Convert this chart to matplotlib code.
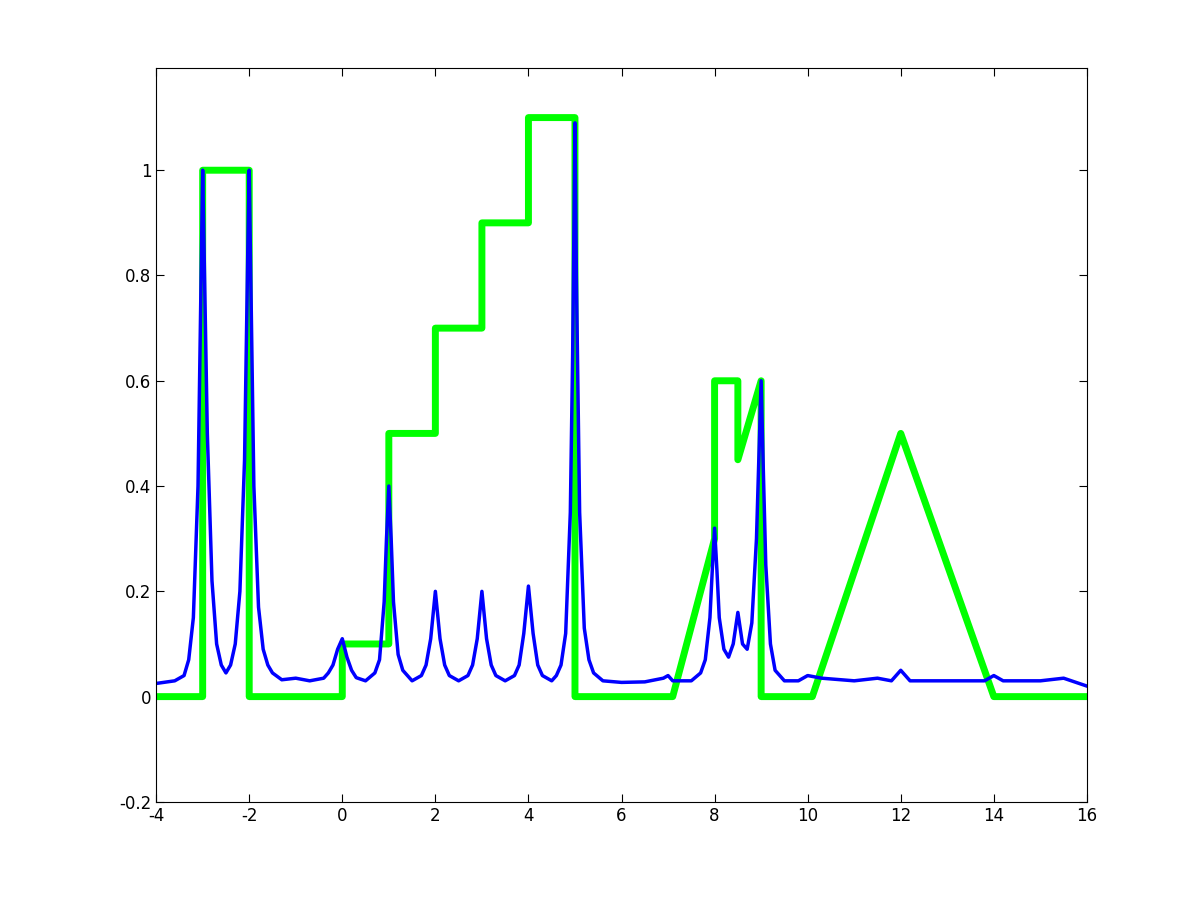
import matplotlib
matplotlib.use('Agg')
import matplotlib.pyplot as plt

# green step/ramp signal (breakpoints)
green_x = [-4, -3, -3, -2, -2, 0, 0, 1, 1, 2, 2, 3, 3, 4, 4, 5, 5, 7.1, 8, 8, 8.5, 8.5, 9, 9, 10.1, 12, 14, 16]
green_y = [0, 0, 1, 1, 0, 0, 0.1, 0.1, 0.5, 0.5, 0.7, 0.7, 0.9, 0.9, 1.1, 1.1, 0, 0, 0.3, 0.6, 0.6, 0.45, 0.6, 0, 0, 0.5, 0, 0]

# blue peak signal
blue_x = [-4, -3.6, -3.4, -3.3, -3.2, -3.1, -3.05, -3, -2.97, -2.9, -2.8, -2.7, -2.6, -2.5, -2.4, -2.3, -2.2,
          -2.1, -2.03, -2, -1.95, -1.9, -1.8, -1.7, -1.6, -1.5, -1.3, -1.0, -0.7, -0.4, -0.3, -0.2, -0.1, 0,
          0.1, 0.2, 0.3, 0.5, 0.7, 0.8, 0.9, 0.95, 1, 1.05, 1.1, 1.2, 1.3, 1.5,
          1.7, 1.8, 1.9, 2, 2.1, 2.2, 2.3, 2.5, 2.7, 2.8, 2.9, 3, 3.1, 3.2, 3.3, 3.5,
          3.7, 3.8, 3.9, 4, 4.1, 4.2, 4.3, 4.5, 4.6, 4.7, 4.8, 4.9, 4.95, 5, 5.03, 5.1, 5.2, 5.3, 5.4, 5.6,
          6, 6.5, 6.9, 7, 7.1, 7.5, 7.7, 7.8, 7.9, 7.95, 8, 8.05, 8.1, 8.2, 8.3, 8.4, 8.5, 8.6, 8.7, 8.8,
          8.9, 8.95, 9, 9.05, 9.1, 9.2, 9.3, 9.5, 9.8, 10, 10.3, 11, 11.5, 11.8, 12, 12.2, 13, 13.8, 14,
          14.2, 15, 15.5, 16]
blue_y = [0.025, 0.03, 0.04, 0.07, 0.15, 0.4, 0.7, 1.0, 0.85, 0.5, 0.22, 0.1, 0.06, 0.045, 0.06, 0.1, 0.2,
          0.45, 0.85, 1.0, 0.7, 0.4, 0.17, 0.09, 0.06, 0.045, 0.032, 0.035, 0.03, 0.035, 0.045, 0.06, 0.09, 0.11,
          0.075, 0.05, 0.036, 0.03, 0.045, 0.07, 0.18, 0.3, 0.4, 0.3, 0.18, 0.08, 0.05, 0.03,
          0.04, 0.06, 0.11, 0.2, 0.11, 0.06, 0.04, 0.03, 0.04, 0.06, 0.11, 0.2, 0.11, 0.06, 0.04, 0.03,
          0.04, 0.06, 0.12, 0.21, 0.12, 0.06, 0.04, 0.03, 0.04, 0.06, 0.12, 0.35, 0.65, 1.09, 0.8, 0.35, 0.13, 0.07, 0.045, 0.03,
          0.027, 0.028, 0.035, 0.04, 0.03, 0.03, 0.045, 0.07, 0.15, 0.24, 0.32, 0.24, 0.15, 0.09, 0.075, 0.1, 0.16, 0.1, 0.09, 0.14,
          0.3, 0.45, 0.6, 0.42, 0.25, 0.1, 0.05, 0.03, 0.03, 0.04, 0.035, 0.03, 0.035, 0.03, 0.05,
          0.03, 0.03, 0.03, 0.04, 0.03, 0.03, 0.035, 0.02]

fig = plt.figure(figsize=(12.01, 9.01), dpi=100)
ax = fig.add_axes([0.13, 0.11, 0.775, 0.815])
ax.plot(green_x, green_y, color=(0, 1, 0), linewidth=5)
ax.plot(blue_x, blue_y, color=(0, 0, 1), linewidth=2.5)
ax.set_xlim(-4, 16)
ax.set_ylim(-0.2, 1.195)
ax.set_xticks(range(-4, 17, 2))
ax.set_yticks([-0.2, 0, 0.2, 0.4, 0.6, 0.8, 1])
ax.set_yticklabels(['-0.2', '0', '0.2', '0.4', '0.6', '0.8', '1'])
ax.set_xticklabels([str(v) for v in range(-4, 17, 2)])
ax.tick_params(direction='in', top=True, right=True, labelsize=12, length=6)
fig.savefig('out.png')
